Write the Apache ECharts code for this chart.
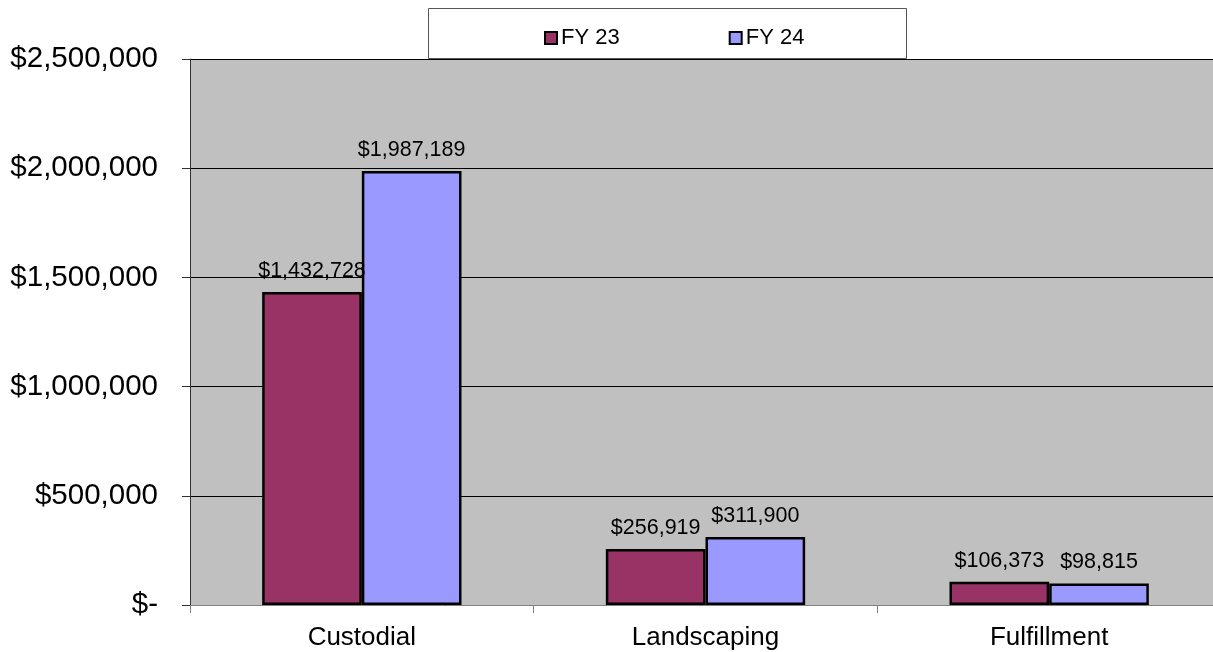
<!DOCTYPE html>
<html>
<head>
<meta charset="utf-8">
<script src="https://cdn.jsdelivr.net/npm/echarts@6/dist/echarts.min.js"></script>
<style>
  html, body { margin: 0; padding: 0; background: #fff; }
  #chart { width: 1213px; height: 652px; }
</style>
</head>
<body>
<div id="chart"></div>
<script>
  var categories = ['Custodial', 'Landscaping', 'Fulfillment'];
  var fy23 = [1432728, 256919, 106373];
  var fy24 = [1987189, 311900, 98815];
  var seriesNames = ['FY 23', 'FY 24'];

  function money(v) {
    if (v === 0) return '$-';
    return '$' + v.toLocaleString('en-US');
  }

  var myChart = echarts.init(document.getElementById('chart'));
  var labelStyle = {
    show: true,
    position: 'top',
    distance: 10,
    color: '#000',
    fontFamily: 'Liberation Sans, Arial',
    fontSize: 21.5,
    formatter: function (p) { return money(p.value); }
  };
  var option = {
    animation: false,
    textStyle: { fontFamily: 'Liberation Sans, Arial' },
    graphic: [{
      type: 'rect',
      left: 428, top: 8,
      shape: { width: 478, height: 50 },
      style: { fill: '#fff', stroke: '#555', lineWidth: 1 },
      z: 0
    }],
    legend: {
      data: seriesNames,
      left: 539, top: 22,
      itemWidth: 12, itemHeight: 12, itemGap: 109,
      icon: 'rect',
      textStyle: { fontSize: 22, color: '#000', padding: [0, 0, 0, -1] },
      itemStyle: { borderColor: '#000', borderWidth: 2 }
    },
    grid: {
      left: 190, width: 1031, top: 59, bottom: 47,
      outerBoundsMode: 'none',
      show: true, backgroundColor: '#c0c0c0', borderWidth: 0
    },
    xAxis: {
      type: 'category',
      data: categories,
      axisLine: { lineStyle: { color: '#808080', width: 1 } },
      axisTick: { show: true, length: 8, lineStyle: { color: '#808080' } },
      axisLabel: { fontSize: 26, color: '#000', margin: 20 }
    },
    yAxis: {
      type: 'value',
      min: 0, max: 2500000, interval: 500000,
      axisLine: { show: true, lineStyle: { color: '#333', width: 1 } },
      axisTick: { show: true, length: 8, lineStyle: { color: '#333' } },
      axisLabel: { fontSize: 29.5, color: '#000', margin: 32, formatter: money },
      splitLine: { lineStyle: { color: '#000', width: 1 } }
    },
    series: [{
      name: seriesNames[0],
      type: 'bar',
      data: fy23,
      barGap: '0%',
      barCategoryGap: '42%',
      itemStyle: { color: '#993366', borderColor: '#000', borderWidth: 2.5 },
      label: labelStyle
    }, {
      name: seriesNames[1],
      type: 'bar',
      data: fy24,
      itemStyle: { color: '#9999ff', borderColor: '#000', borderWidth: 2.5 },
      label: labelStyle
    }]
  };
  myChart.setOption(option);
</script>
</body>
</html>
